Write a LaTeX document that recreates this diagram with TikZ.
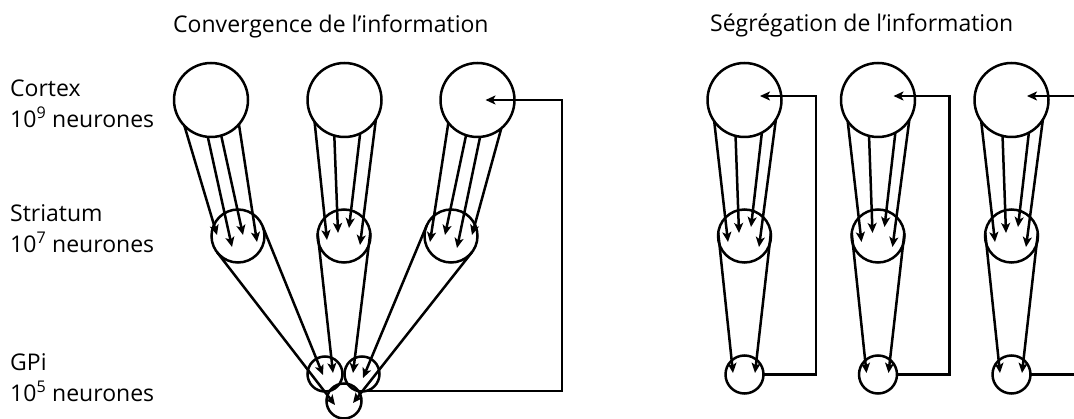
\documentclass[tikz,border=0pt]{standalone}
\usepackage{fontspec}
\setmainfont{Open Sans}
\usetikzlibrary{arrows.meta,calc}
\begin{document}
\begin{tikzpicture}[x=1pt,y=-1pt,
  lw/.style={line width=2.5pt},
  ctx/.style={circle,draw,lw,minimum size=74pt,inner sep=0pt,outer sep=0pt},
  str/.style={circle,draw,lw,minimum size=53pt,inner sep=0pt,outer sep=0pt},
  gpi/.style={circle,draw,lw,minimum size=35pt,inner sep=0pt,outer sep=0pt},
  gpib/.style={gpi,minimum size=38pt},
  arr/.style={lw,-{Stealth[length=10pt,width=9pt,inset=2.5pt]}},
  fb/.style={arr,line join=miter},
  lbl/.style={anchor=base west,inner sep=0pt,font=\fontsize{23}{31}\selectfont,align=left}
]
\useasboundingbox (0,0) rectangle (1074,419);
\clip (0,0) rectangle (1074,419);
% titles
\node[lbl] (tconv) at (173,33) {Convergence de l’information};
\node[lbl] (tseg) at (710,32) {Ségrégation de l’information};
% labels
\node[lbl] (lctx) at (10,128) {Cortex\\10\textsuperscript{9} neurones};
\node[lbl] (lstr) at (10,253) {Striatum\\10\textsuperscript{7} neurones};
\node[lbl] (lgpi) at (10,402) {GPi\\10\textsuperscript{5} neurones};
% ---------- convergence ----------
\node[ctx] (c1) at (211,100) {};
\node[ctx] (c2) at (344.5,100) {};
\node[ctx] (c3) at (477.5,100) {};
\node[str] (s1) at (238,236) {};
\node[str] (s2) at (344,236) {};
\node[str] (s3) at (451,236) {};
\node[gpi] (gL) at (325,374) {};
\node[gpi] (gR) at (362,374) {};
\node[gpi] (gB) at (344,401) {};
% cortex -> striatum
\draw[arr] (c1.224) -- ($(s1)+(-21,-1)$);
\draw[arr] (c1.265) -- ($(s1)+(-6,11)$);
\draw[arr] (c1.286) -- ($(s1)+(5,-1)$);
\draw[arr] (c1.319) -- ($(s1)+(19,6)$);
\draw[arr] (c2.216) -- ($(s2)+(-17,4)$);
\draw[arr] (c2.254.5) -- ($(s2)+(-6,-3)$);
\draw[arr] (c2.295) -- ($(s2)+(5,-8)$);
\draw[arr] (c2.328) -- ($(s2)+(16,9)$);
\draw[arr] (c3.218) -- ($(s3)+(-21,6)$);
\draw[arr] (c3.252) -- ($(s3)+(-6,-1)$);
\draw[arr] (c3.274) -- ($(s3)+(6,12)$);
\draw[arr] (c3.310) -- ($(s3)+(21,-1)$);
% striatum -> GPi
\draw[arr] (s1.218) -- ($(gB)+(-9,4)$);
\draw[arr] (s1.20) -- ($(gL)+(-2,1)$);
\draw[arr] (s2.174) -- ($(gL)+(8,-1)$);
\draw[arr] (s2.7) -- ($(gR)+(-9,-1)$);
\draw[arr] (s3.157) -- ($(gR)+(1,4)$);
\draw[arr] (s3.323) -- ($(gB)+(9,2)$);
% feedback
\coordinate (k1) at (562,100);
\draw[fb] (gR.285) -| (k1) -- ($(c3)+(8,0)$);
% ---------- segregation ----------
\foreach \i/\x in {1/744.5,2/878,3/1011.5}{
  \node[ctx] (rc\i) at (\x,100) {};
  \node[str] (rs\i) at (\x,236) {};
  \node[gpib] (rg\i) at (\x,374.5) {};
  \draw[arr] (rc\i.215) -- ($(rs\i)+(-16.5,6)$);
  \draw[arr] (rc\i.256) -- ($(rs\i)+(-5.5,-3)$);
  \draw[arr] (rc\i.298) -- ($(rs\i)+(6.5,-9)$);
  \draw[arr] (rc\i.328) -- ($(rs\i)+(14.5,11)$);
  \draw[arr] (rs\i.173.5) -- ($(rg\i)+(-11.5,-1.5)$);
  \draw[arr] (rs\i.6.5) -- ($(rg\i)+(10.5,-1.5)$);
  \coordinate (rk\i) at (\x+71.5,96);
  \draw[fb] (rg\i.east) -| (rk\i) -- ($(rc\i)+(15.5,-4)$);
}
\end{tikzpicture}
\end{document}
